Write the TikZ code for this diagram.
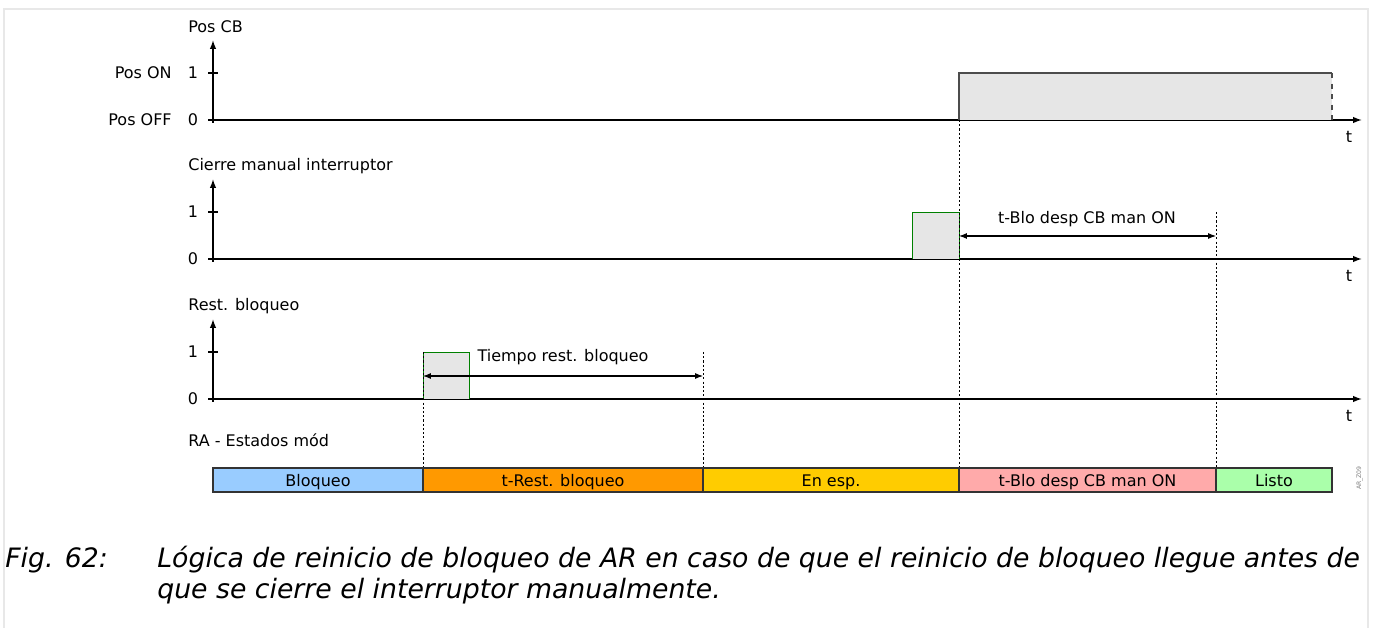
\documentclass[tikz,border=0pt]{standalone}
\usepackage{fontspec}
\setmainfont{DejaVu Sans}
\usetikzlibrary{arrows.meta}
\definecolor{stBlo}{HTML}{99CCFF}
\definecolor{stRest}{HTML}{FF9900}
\definecolor{stEsp}{HTML}{FFCC00}
\definecolor{stMan}{HTML}{FFAAAA}
\definecolor{stListo}{HTML}{AAFFAA}
\definecolor{pulsegray}{HTML}{E6E6E6}
\definecolor{framegray}{HTML}{E8E8E8}

\begin{document}
\begin{tikzpicture}[x=0.02cm,y=-0.02cm,
  font=\fontsize{9.1}{11}\selectfont,
  axis/.style={line width=0.8pt,-{Latex[length=5pt,width=3.6pt]}},
  lbl/.style={inner sep=0pt},
  pulse/.style={draw=green!50!black,fill=pulsegray,line width=0.5pt},
  marker/.style={line width=0.4pt,dash pattern=on 1.2pt off 1.2pt},
  dim/.style={line width=0.6pt,{Latex[length=4.5pt,width=3.4pt]}-{Latex[length=4.5pt,width=3.4pt]}},
  state/.style={draw=black!80,line width=0.6pt},
  capline/.style={inner sep=0pt,anchor=base west,font=\fontsize{15.2}{18}\selectfont\itshape}]

  \useasboundingbox (0,0) rectangle (1377,628);
  \draw[framegray,line width=1.2pt] (4,628) -- (4,9) -- (1368,9) -- (1368,628);

  % three signal axes
  \foreach \yo/\name [count=\i] in {120/Pos CB,259/Cierre manual interruptor,399/Rest. bloqueo} {
    \coordinate (o\i) at (213,\yo);
    \coordinate (x\i) at (1362,\yo);
    \coordinate (y\i) at (213,\yo-80);
    \draw[line width=0.8pt] (208,\yo) -- (o\i);
    \draw[axis] (o\i) -- (x\i);
    \draw[axis] ([yshift=-0.06cm]o\i) -- (y\i);
    \draw[line width=0.6pt] (208,\yo-47) -- (218,\yo-47);
    \node[lbl,anchor=west] (sig\i) at (188,\yo-93) {\name};
    \node[lbl] (one\i) at (193,\yo-47) {1};
    \node[lbl] (zero\i) at (193,\yo) {0};
    \node[lbl] (t\i) at (1349,\yo+17) {t};
  }
  \node[lbl,anchor=east] (pon) at (172,73) {Pos ON};
  \node[lbl,anchor=east] (poff) at (172,120) {Pos OFF};

  % Pos CB goes ON
  \fill[pulsegray] (959,73) rectangle (1332,120);
  \draw[black!70,line width=0.8pt] (959,120) -- (959,73) -- (1332,73);
  \draw[black!70,line width=0.8pt,dashed] (1332,73) -- (1332,120);

  % pulses
  \draw[pulse] (912,259) -- (912,212) -- (959,212) -- (959,259);
  \draw[pulse] (423,399) -- (423,352) -- (469,352) -- (469,399);

  % event markers
  \coordinate (ev1) at (423,468);
  \coordinate (ev2) at (703,468);
  \coordinate (ev3) at (959,468);
  \coordinate (ev4) at (1216,468);
  \draw[marker] (423,352) -- (ev1);
  \draw[marker] (703,352) -- (ev2);
  \draw[marker] (959,120) -- (ev3);
  \draw[marker] (1216,212) -- (ev4);

  % time spans
  \coordinate (d1a) at (423,376);
  \coordinate (d1b) at (703,376);
  \draw[dim] (d1a) -- (d1b);
  \node[lbl] (tRest) at (563,357) {Tiempo rest. bloqueo};
  \coordinate (d2a) at (959,236);
  \coordinate (d2b) at (1216,236);
  \draw[dim] (d2a) -- (d2b);
  \node[lbl] (tMan) at (1087,219) {t-Blo desp CB man ON};

  % module states
  \node[lbl,anchor=west] (ra) at (188,440) {RA - Estados mód};
  \tikzset{every node/.append style={text height=0.9em,text depth=0.2em}}
  \draw[state,fill=stBlo] (213,468) rectangle (423,492) node[midway] (sBlo) {Bloqueo};
  \draw[state,fill=stRest] (423,468) rectangle (703,492) node[midway] (sRest) {t-Rest. bloqueo};
  \draw[state,fill=stEsp] (703,468) rectangle (959,492) node[midway] (sEsp) {En esp.};
  \draw[state,fill=stMan] (959,468) rectangle (1216,492) node[midway] (sMan) {t-Blo desp CB man ON};
  \draw[state,fill=stListo] (1216,468) rectangle (1332,492) node[midway] (sListo) {Listo};
  \node[lbl,rotate=90,black!50,font=\fontsize{3.5}{4}\selectfont] (tag) at (1355,478) {AR\_Z09};

  % caption
  \node[capline] (fig) at (5,567) {Fig. 62:};
  \node[capline] (cap1) at (157,567) {Lógica de reinicio de bloqueo de AR en caso de que el reinicio de bloqueo llegue antes de};
  \node[capline] (cap2) at (157,598) {que se cierre el interruptor manualmente.};
\end{tikzpicture}
\end{document}
